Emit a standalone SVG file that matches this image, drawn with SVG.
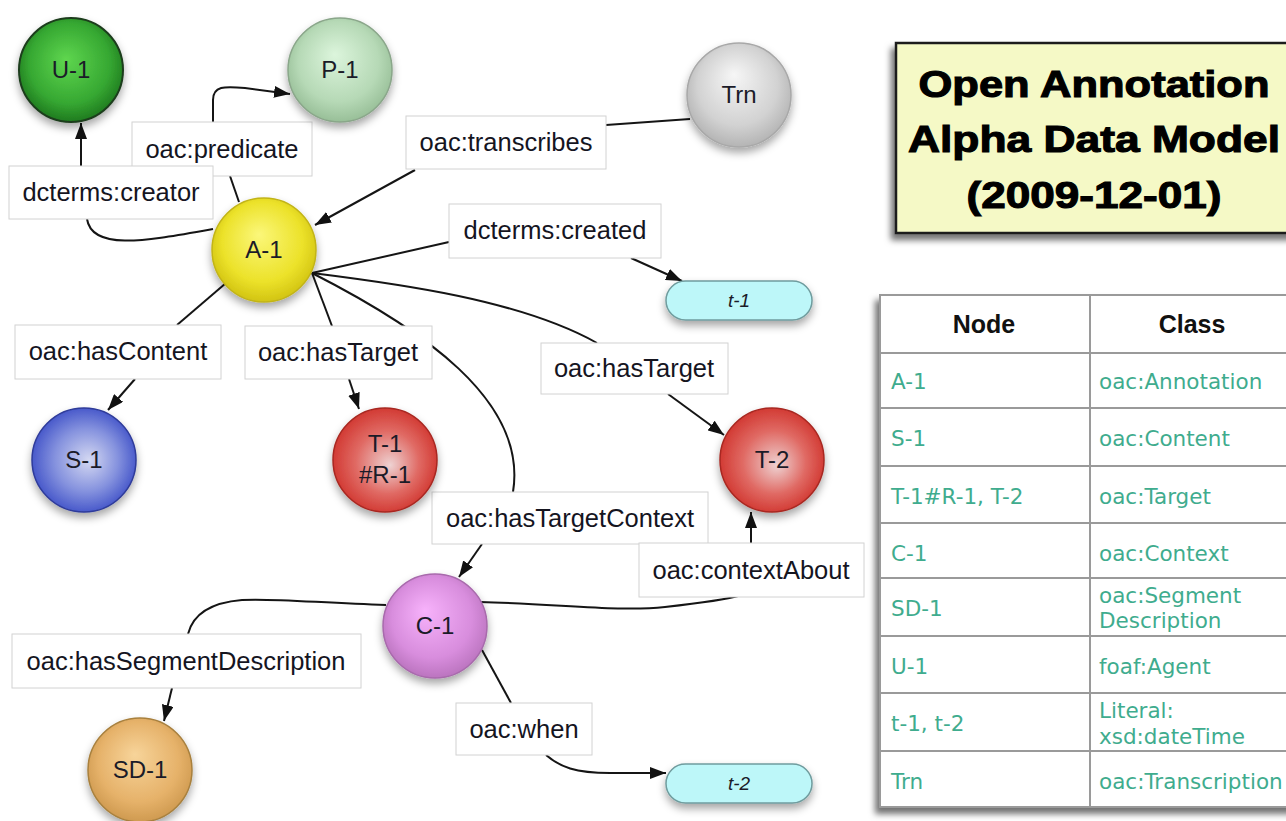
<svg xmlns="http://www.w3.org/2000/svg" width="1286" height="821" viewBox="0 0 1286 821">
<defs>
  <style>
    .edge{fill:none;stroke:#151515;stroke-width:2}
    .arr{marker-end:url(#ah)}
    .lbox{fill:#fff;stroke:#d2d2d2;stroke-width:1}
    .ltxt{font-family:"Liberation Sans",Arial,sans-serif;font-size:25.5px;fill:#15151f;text-anchor:middle}
    .ntxt{font-family:"Liberation Sans",Arial,sans-serif;font-size:24px;fill:#1b1b28;text-anchor:middle}
    .ptxt{font-family:"Liberation Sans",Arial,sans-serif;font-size:19px;font-style:italic;fill:#1b1b28;text-anchor:middle}
    .ttl{font-family:"Liberation Sans",Arial,sans-serif;font-size:37px;font-weight:bold;fill:#000;stroke:#000;stroke-width:1.1;text-anchor:middle}
    .th{font-family:"Liberation Sans",Arial,sans-serif;font-size:25px;font-weight:bold;fill:#111;text-anchor:middle}
    .td{font-family:"DejaVu Sans",Verdana,sans-serif;font-size:21.5px;fill:#3fac8e}
    .grid{stroke:#9a9a9a;stroke-width:2;fill:none}
  </style>
  <marker id="ah" viewBox="0 0 16 12" refX="16" refY="6" markerWidth="16" markerHeight="12" markerUnits="userSpaceOnUse" orient="auto">
    <path d="M0,0 L16,6 L0,12 z" fill="#111"/>
  </marker>
  <filter id="sh" x="-30%" y="-30%" width="160%" height="170%">
    <feDropShadow dx="0" dy="5" stdDeviation="4" flood-color="#000" flood-opacity="0.35"/>
  </filter>
  <filter id="bsh" x="-10%" y="-10%" width="130%" height="130%">
    <feDropShadow dx="-4" dy="6" stdDeviation="3" flood-color="#000" flood-opacity="0.55"/>
  </filter>
  <radialGradient id="gU" cx="50%" cy="45%" r="55%" fx="45%" fy="40%">
    <stop offset="0" stop-color="#5fd64f"/><stop offset="0.7" stop-color="#36a832"/><stop offset="1" stop-color="#1f7a1f"/>
  </radialGradient>
  <radialGradient id="gP" cx="50%" cy="45%" r="55%" fx="45%" fy="35%">
    <stop offset="0" stop-color="#dcf5dc"/><stop offset="0.7" stop-color="#b6d9b6"/><stop offset="1" stop-color="#98bf98"/>
  </radialGradient>
  <radialGradient id="gTrn" cx="50%" cy="45%" r="55%" fx="45%" fy="30%">
    <stop offset="0" stop-color="#f6f6f6"/><stop offset="0.7" stop-color="#d2d2d2"/><stop offset="1" stop-color="#b4b4b4"/>
  </radialGradient>
  <radialGradient id="gA" cx="50%" cy="45%" r="55%" fx="45%" fy="35%">
    <stop offset="0" stop-color="#fbf77a"/><stop offset="0.7" stop-color="#ece22a"/><stop offset="1" stop-color="#d2c412"/>
  </radialGradient>
  <radialGradient id="gS" cx="50%" cy="50%" r="55%" fx="55%" fy="50%">
    <stop offset="0" stop-color="#d4d8f2"/><stop offset="0.55" stop-color="#8592de"/><stop offset="1" stop-color="#3a4cc6"/>
  </radialGradient>
  <radialGradient id="gT" cx="50%" cy="50%" r="55%" fx="55%" fy="55%">
    <stop offset="0" stop-color="#eed2d2"/><stop offset="0.55" stop-color="#e06a64"/><stop offset="1" stop-color="#cf3029"/>
  </radialGradient>
  <radialGradient id="gC" cx="50%" cy="45%" r="55%" fx="40%" fy="35%">
    <stop offset="0" stop-color="#f7b2fb"/><stop offset="0.7" stop-color="#d88ddd"/><stop offset="1" stop-color="#bb74bf"/>
  </radialGradient>
  <radialGradient id="gSD" cx="50%" cy="45%" r="55%" fx="45%" fy="35%">
    <stop offset="0" stop-color="#f7d49a"/><stop offset="0.7" stop-color="#e6b26a"/><stop offset="1" stop-color="#cf9a50"/>
  </radialGradient>
</defs>
<rect width="1286" height="821" fill="#fff"/>

<g id="connectors">
  <!-- dcterms:creator -->
  <path class="edge" d="M213,229 C150,240 92,252 87,219"/>
  <path class="edge arr" d="M81,166 L81,123"/>
  <!-- oac:predicate -->
  <path class="edge" d="M239,202 L230,176"/>
  <path class="edge arr" d="M213,122 L213,100 C213,86 224,86 245,88 L290,94"/>
  <!-- oac:transcribes -->
  <path class="edge" d="M690,119 L606,125"/>
  <path class="edge arr" d="M415,170 L315,225"/>
  <!-- dcterms:created -->
  <path class="edge" d="M312,273 L449,242"/>
  <path class="edge arr" d="M631,258 L682,281"/>
  <!-- oac:hasContent -->
  <path class="edge" d="M226,283 L177,325"/>
  <path class="edge arr" d="M135,379 L108,410"/>
  <!-- oac:hasTarget 1 -->
  <path class="edge" d="M312,273 L332,326"/>
  <path class="edge arr" d="M349,379 L359,409"/>
  <!-- oac:hasTarget 2 -->
  <path class="edge" d="M312,273 C400,284 520,300 597,343"/>
  <path class="edge arr" d="M668,394 L724,435"/>
  <!-- oac:hasTargetContext -->
  <path class="edge" d="M312,273 C420,328 528,400 513,492"/>
  <path class="edge arr" d="M482,544 L459,577"/>
  <!-- oac:contextAbout -->
  <path class="edge" d="M480,602 C560,604 620,612 665,607 C700,603 725,600 738,596"/>
  <path class="edge arr" d="M751,543 L751,512"/>
  <!-- oac:hasSegmentDescription -->
  <path class="edge" d="M386,605 C320,603 272,598 242,600 C206,603 192,618 188,634"/>
  <path class="edge arr" d="M172,688 L164,721"/>
  <!-- oac:when -->
  <path class="edge" d="M482,650 L511,703"/>
  <path class="edge arr" d="M546,755 C560,767 575,773 610,773 L666,773"/>
</g>

<g id="edge-labels">
  <g id="lbl-predicate"><rect class="lbox" x="132" y="122" width="180" height="54"/><text class="ltxt" x="222" y="158">oac:predicate</text></g>
  <g id="lbl-creator"><rect class="lbox" x="9" y="166" width="204" height="53"/><text class="ltxt" x="111" y="201">dcterms:creator</text></g>
  <g id="lbl-transcribes"><rect class="lbox" x="406" y="116" width="200" height="53"/><text class="ltxt" x="506" y="151">oac:transcribes</text></g>
  <g id="lbl-created"><rect class="lbox" x="449" y="204" width="212" height="54"/><text class="ltxt" x="555" y="239">dcterms:created</text></g>
  <g id="lbl-hasContent"><rect class="lbox" x="15" y="325" width="206" height="54"/><text class="ltxt" x="118" y="360">oac:hasContent</text></g>
  <g id="lbl-hasTarget1"><rect class="lbox" x="245" y="326" width="187" height="53"/><text class="ltxt" x="338" y="361">oac:hasTarget</text></g>
  <g id="lbl-hasTarget2"><rect class="lbox" x="541" y="343" width="187" height="51"/><text class="ltxt" x="634" y="377">oac:hasTarget</text></g>
  <g id="lbl-hasTargetContext"><rect class="lbox" x="432" y="492" width="276" height="52"/><text class="ltxt" x="570" y="527">oac:hasTargetContext</text></g>
  <g id="lbl-contextAbout"><rect class="lbox" x="639" y="543" width="225" height="54"/><text class="ltxt" x="751" y="579">oac:contextAbout</text></g>
  <g id="lbl-hasSegmentDescription"><rect class="lbox" x="12" y="634" width="349" height="54"/><text class="ltxt" x="186" y="670">oac:hasSegmentDescription</text></g>
  <g id="lbl-when"><rect class="lbox" x="456" y="703" width="136" height="52"/><text class="ltxt" x="524" y="738">oac:when</text></g>
</g>

<g id="node-U-1"><circle cx="71" cy="70" r="52" fill="url(#gU)" stroke="#1d3d1d" stroke-width="2" filter="url(#sh)"/><text class="ntxt" x="71" y="78">U-1</text></g>
<g id="node-P-1"><circle cx="340" cy="70" r="52" fill="url(#gP)" stroke="#8aa68a" stroke-width="1.5" filter="url(#sh)"/><text class="ntxt" x="340" y="78">P-1</text></g>
<g id="node-Trn"><circle cx="739" cy="95" r="52" fill="url(#gTrn)" stroke="#a8a8a8" stroke-width="1.5" filter="url(#sh)"/><text class="ntxt" x="739" y="103">Trn</text></g>
<g id="node-A-1"><circle cx="264" cy="250" r="52" fill="url(#gA)" stroke="#c2b418" stroke-width="1.5" filter="url(#sh)"/><text class="ntxt" x="264" y="258">A-1</text></g>
<g id="node-S-1"><circle cx="84" cy="460" r="52" fill="url(#gS)" stroke="#2e3b9a" stroke-width="1.5" filter="url(#sh)"/><text class="ntxt" x="84" y="468">S-1</text></g>
<g id="node-T-1"><circle cx="385" cy="460" r="52" fill="url(#gT)" stroke="#a82820" stroke-width="1.5" filter="url(#sh)"/><text class="ntxt" x="385" y="452">T-1</text><text class="ntxt" x="385" y="483">#R-1</text></g>
<g id="node-T-2"><circle cx="772" cy="460" r="52" fill="url(#gT)" stroke="#a82820" stroke-width="1.5" filter="url(#sh)"/><text class="ntxt" x="772" y="468">T-2</text></g>
<g id="node-C-1"><circle cx="435" cy="626" r="52" fill="url(#gC)" stroke="#a86aac" stroke-width="1.5" filter="url(#sh)"/><text class="ntxt" x="435" y="634">C-1</text></g>
<g id="node-SD-1"><circle cx="140" cy="770" r="52" fill="url(#gSD)" stroke="#a8803e" stroke-width="1.5" filter="url(#sh)"/><text class="ntxt" x="140" y="778">SD-1</text></g>
<g id="node-t-1"><rect x="666" y="281" width="146" height="39" rx="19.5" fill="#bdf7f9" stroke="#6f9c9e" stroke-width="1.5" filter="url(#sh)"/><text class="ptxt" x="739" y="307">t-1</text></g>
<g id="node-t-2"><rect x="666" y="764" width="146" height="39" rx="19.5" fill="#bdf7f9" stroke="#6f9c9e" stroke-width="1.5" filter="url(#sh)"/><text class="ptxt" x="739" y="790">t-2</text></g>

<g id="title">
  <rect x="896" y="43" width="420" height="190" fill="#f5f9c6" stroke="#1e1e1e" stroke-width="2.5" filter="url(#bsh)"/>
  <text class="ttl" x="1094" y="97" textLength="351" lengthAdjust="spacingAndGlyphs">Open Annotation</text>
  <text class="ttl" x="1094" y="152" textLength="372" lengthAdjust="spacingAndGlyphs">Alpha Data Model</text>
  <text class="ttl" x="1094" y="208" textLength="255" lengthAdjust="spacingAndGlyphs">(2009-12-01)</text>
</g>

<g id="table">
  <rect x="880" y="295" width="420" height="512" fill="#fff" stroke="#9a9a9a" stroke-width="2" filter="url(#bsh)"/>
  <path class="grid" d="M1090,295 V807 M880,353 H1300 M880,408 H1300 M880,466 H1300 M880,523 H1300 M880,578 H1300 M880,636 H1300 M880,693 H1300 M880,751 H1300"/>
  <text class="th" x="984" y="333">Node</text>
  <text class="th" x="1192" y="333">Class</text>
  <text class="td" x="891" y="389">A-1</text>
  <text class="td" x="1099" y="389">oac:Annotation</text>
  <text class="td" x="891" y="446">S-1</text>
  <text class="td" x="1099" y="446">oac:Content</text>
  <text class="td" x="891" y="504">T-1#R-1, T-2</text>
  <text class="td" x="1099" y="504">oac:Target</text>
  <text class="td" x="891" y="561">C-1</text>
  <text class="td" x="1099" y="561">oac:Context</text>
  <text class="td" x="891" y="616">SD-1</text>
  <text class="td" x="1099" y="603">oac:Segment</text>
  <text class="td" x="1099" y="628">Description</text>
  <text class="td" x="891" y="674">U-1</text>
  <text class="td" x="1099" y="674">foaf:Agent</text>
  <text class="td" x="891" y="731">t-1, t-2</text>
  <text class="td" x="1099" y="718">Literal:</text>
  <text class="td" x="1099" y="744">xsd:dateTime</text>
  <text class="td" x="891" y="789">Trn</text>
  <text class="td" x="1099" y="789">oac:Transcription</text>
</g>
</svg>
